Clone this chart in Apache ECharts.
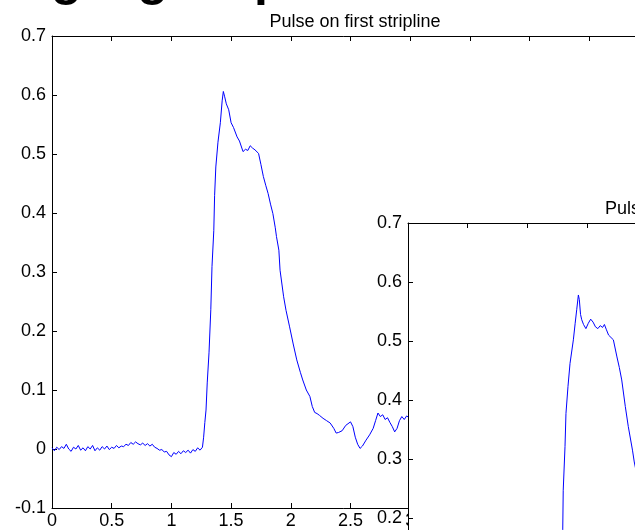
<!DOCTYPE html>
<html>
<head>
<meta charset="utf-8">
<title>Pulse on first stripline</title>
<script src="https://cdn.jsdelivr.net/npm/echarts@6/dist/echarts.min.js"></script>
<style>
  html, body { margin: 0; padding: 0; background: #fff; }
  #pulseChart { width: 635px; height: 530px; }
</style>
</head>
<body>
<div id="pulseChart"></div>
<script>
// first stripline (main plot), time axis and amplitude
var timeFirst = [
  0.00, 0.02, 0.04, 0.06, 0.08, 0.10, 0.12, 0.14, 0.16, 0.18,
  0.20, 0.22, 0.24, 0.26, 0.28, 0.30, 0.32, 0.34, 0.36, 0.38,
  0.40, 0.42, 0.44, 0.46, 0.48, 0.50, 0.52, 0.54, 0.56, 0.58,
  0.60, 0.62, 0.64, 0.66, 0.68, 0.70, 0.72, 0.74, 0.76, 0.78,
  0.80, 0.82, 0.84, 0.86, 0.88, 0.90, 0.92, 0.94, 0.96, 0.98,
  1.00, 1.02, 1.04, 1.06, 1.08, 1.10, 1.12, 1.14, 1.16, 1.18,
  1.20, 1.22, 1.24, 1.26, 1.27, 1.28, 1.29, 1.30, 1.315, 1.33,
  1.34, 1.355, 1.362, 1.372, 1.39, 1.41, 1.425, 1.435, 1.445, 1.46,
  1.48, 1.50, 1.52, 1.55, 1.57, 1.60, 1.62, 1.64, 1.66, 1.68,
  1.70, 1.73, 1.75, 1.77, 1.79, 1.81, 1.83, 1.85, 1.87, 1.88,
  1.90, 1.91, 1.94, 1.96, 1.99, 2.02, 2.05, 2.08, 2.10, 2.13,
  2.16, 2.18, 2.20, 2.22, 2.24, 2.27, 2.30, 2.33, 2.36, 2.38,
  2.40, 2.43, 2.46, 2.50, 2.52, 2.54, 2.56, 2.58, 2.60, 2.63,
  2.66, 2.69, 2.71, 2.73, 2.75, 2.77, 2.79, 2.81, 2.83, 2.85,
  2.87, 2.89, 2.91, 2.93, 2.95, 2.97, 3.00
];
var pulseFirst = [
  0.002, -0.003, 0.003, -0.001, 0.004, 0.001, 0.008, 0.000, -0.004, 0.003,
  0.000, 0.006, -0.002, 0.002, -0.003, 0.004, 0.000, 0.006, -0.003, 0.002,
  -0.002, 0.004, 0.000, 0.005, -0.001, 0.003, 0.001, 0.006, 0.002, 0.005,
  0.004, 0.008, 0.006, 0.011, 0.008, 0.012, 0.009, 0.007, 0.010, 0.006,
  0.009, 0.005, 0.008, 0.003, 0.001, -0.002, -0.001, -0.005, -0.004, -0.010,
  -0.013, -0.006, -0.009, -0.004, -0.008, -0.003, -0.006, -0.002, -0.007, -0.001,
  -0.004, 0.002, -0.002, 0.003, 0.020, 0.045, 0.066, 0.112, 0.163, 0.236,
  0.309, 0.370, 0.430, 0.478, 0.520, 0.553, 0.590, 0.606, 0.598, 0.585,
  0.575, 0.553, 0.545, 0.529, 0.522, 0.504, 0.508, 0.506, 0.514, 0.510,
  0.507, 0.501, 0.482, 0.462, 0.447, 0.433, 0.415, 0.399, 0.375, 0.360,
  0.337, 0.303, 0.258, 0.235, 0.207, 0.178, 0.151, 0.130, 0.117, 0.100,
  0.089, 0.072, 0.062, 0.060, 0.057, 0.052, 0.048, 0.044, 0.035, 0.027,
  0.028, 0.031, 0.040, 0.046, 0.038, 0.020, 0.008, 0.001, 0.005, 0.015,
  0.024, 0.035, 0.048, 0.061, 0.055, 0.058, 0.050, 0.053, 0.045, 0.038,
  0.029, 0.035, 0.048, 0.055, 0.050, 0.056, 0.052
];

// second stripline (overlapping figure), only the visible part
var timeSecond = [
  1.270, 1.296, 1.300, 1.315, 1.323, 1.340, 1.357, 1.385, 1.400, 1.413,
  1.427, 1.435, 1.445, 1.455, 1.470, 1.490, 1.510, 1.530, 1.550, 1.570,
  1.590, 1.610, 1.630, 1.645, 1.660, 1.680, 1.700, 1.720, 1.750, 1.770,
  1.790, 1.820, 1.845, 1.880, 1.895, 1.920, 1.950
];
var pulseSecond = [
  0.050, 0.180, 0.247, 0.321, 0.377, 0.423, 0.462, 0.502, 0.530, 0.553,
  0.578, 0.570, 0.545, 0.536, 0.528, 0.521, 0.530, 0.537, 0.532, 0.524,
  0.521, 0.526, 0.523, 0.528, 0.520, 0.510, 0.506, 0.502, 0.473, 0.455,
  0.434, 0.389, 0.355, 0.315, 0.295, 0.270, 0.240
];

var timeTicks = { min: 0, max: 5, interval: 0.5 };
var voltTicks = { min: -0.1, max: 0.7, interval: 0.1 };

var FONT = "'Liberation Sans', Arial, sans-serif";

function pairs(xs, ys) {
  return xs.map(function (x, i) { return [x, ys[i]]; });
}

function axisSet(gridIndex, z) {
  var line = { show: true, onZero: false, lineStyle: { color: '#000', width: 1 } };
  var tick = { show: true, inside: true, length: 5, lineStyle: { color: '#000', width: 1 } };
  var lbl = { show: true, color: '#000', fontSize: 18, fontFamily: FONT };
  return {
    x: [
      { type: 'value', gridIndex: gridIndex, position: 'bottom', z: z,
        min: timeTicks.min, max: timeTicks.max, interval: timeTicks.interval,
        axisLine: line, axisTick: tick, splitLine: { show: false },
        axisLabel: Object.assign({ margin: 4, hideOverlap: false }, lbl) },
      { type: 'value', gridIndex: gridIndex, position: 'top', z: z,
        min: timeTicks.min, max: timeTicks.max, interval: timeTicks.interval,
        axisLine: line, axisTick: tick, splitLine: { show: false },
        axisLabel: { show: false } }
    ],
    y: [
      { type: 'value', gridIndex: gridIndex, position: 'left', z: z,
        min: voltTicks.min, max: voltTicks.max, interval: voltTicks.interval,
        axisLine: line, axisTick: tick, splitLine: { show: false },
        axisLabel: Object.assign({ margin: 6 }, lbl) },
      { type: 'value', gridIndex: gridIndex, position: 'right', z: z,
        min: voltTicks.min, max: voltTicks.max, interval: voltTicks.interval,
        axisLine: line, axisTick: tick, splitLine: { show: false },
        axisLabel: { show: false } }
    ]
  };
}

var chartDom = document.getElementById('pulseChart');
var myChart = echarts.init(chartDom, null, { renderer: 'canvas' });

var first = axisSet(0, 1);
var second = axisSet(1, 11);

// slide heading, cut off at the top edge: only descenders show
var headStyle = { fill: '#000', fontSize: 50, fontWeight: 'bold', fontFamily: FONT, verticalAlign: 'middle' };

var option = {
  animation: false,
  backgroundColor: '#fff',
  textStyle: { fontFamily: FONT },
  title: [
    { text: 'Pulse on first stripline', left: 350, top: 8, textAlign: 'center',
      textStyle: { color: '#000', fontSize: 18, fontWeight: 'normal', fontFamily: FONT } },
    { text: 'Pulse on second stripline', left: 700, top: 195, textAlign: 'center', z: 12,
      textStyle: { color: '#000', fontSize: 18, fontWeight: 'normal', fontFamily: FONT } }
  ],
  graphic: [
    { type: 'text', x: -132, y: -19, z: 20,
      style: Object.assign({ text: 'Studying signal' }, headStyle) },
    { type: 'text', x: 254, y: -19, z: 20,
      style: Object.assign({ text: 'pulses' }, headStyle) }
  ],
  grid: [
    { left: 52, top: 36, width: 597, height: 472, show: true, containLabel: false,
      outerBoundsMode: 'none', backgroundColor: '#fff', borderWidth: 0, z: 0 },
    { left: 408, top: 223, width: 597, height: 472, show: true, containLabel: false,
      outerBoundsMode: 'none', backgroundColor: '#fff', borderWidth: 0, z: 10 }
  ],
  xAxis: first.x.concat(second.x),
  yAxis: first.y.concat(second.y),
  series: [
    { name: 'first', type: 'line', xAxisIndex: 0, yAxisIndex: 0, z: 2,
      showSymbol: false, data: pairs(timeFirst, pulseFirst),
      lineStyle: { color: '#0000ff', width: 1 }, itemStyle: { color: '#0000ff' } },
    { name: 'second', type: 'line', xAxisIndex: 2, yAxisIndex: 2, z: 12,
      showSymbol: false, data: pairs(timeSecond, pulseSecond),
      lineStyle: { color: '#0000ff', width: 1 }, itemStyle: { color: '#0000ff' } }
  ]
};

option && myChart.setOption(option);
</script>
</body>
</html>
